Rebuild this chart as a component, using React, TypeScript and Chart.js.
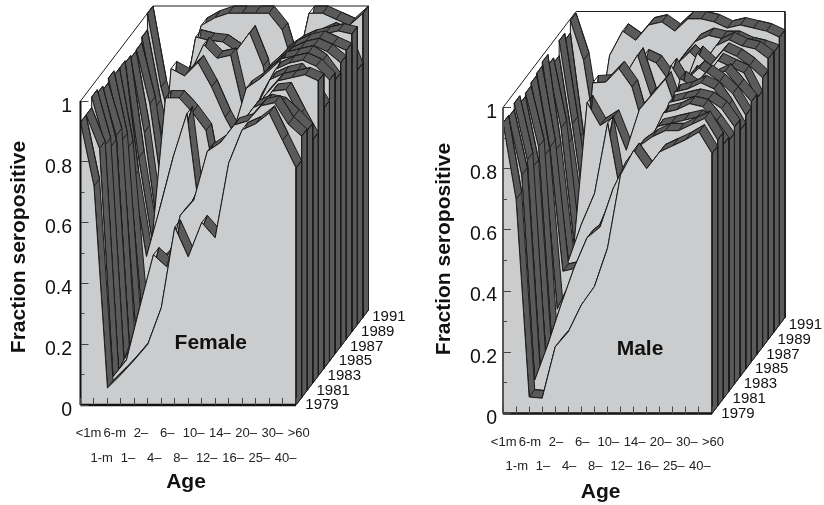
import React, { useEffect, useRef } from "react";
import { Chart, registerables } from "chart.js";

Chart.register(...registerables);

const ageLabels = ["<1m", "1-m", "6-m", "1–", "2–", "4–", "6–", "8–", "10–", "12–", "14–", "16–", "20–", "25–", "30–", "40–", ">60"];
const yearLabels = ["1979", "1981", "1983", "1985", "1987", "1989", "1991"];

const female1979 = [.93, .72, .056, .10, .148, .2, .32, .585, .487, .6, .55, .795, .905, .925, .96, .87, .78];
const female1980 = [.93, .82, .069, .124, .3, .47, .43, .6, .65, .81, .84, .897, .91, .96, .97, .90, .86];
const female1981 = [.965, .807, .067, .15, .32, .42, .46, .58, .67, .78, .82, .87, .93, .95, .94, .9, .855];
const female1982 = [.953, .777, .075, .2, .37, .38, .5, .57, .7, .76, .82, .85, .9, .96, .965, .88, .80];
const female1983 = [.94, .79, .085, .25, .37, .38, .52, .6, .72, .76, .8, .84, .92, .97, .98, .99, .97];
const female1984 = [.955, .75, .14, .29, .33, .43, .5, .64, .7, .75, .78, .86, .95, .97, .98, .93, .857];
const female1985 = [.94, .70, .19, .31, .31, .46, .51, .66, .7, .76, .78, .88, .96, .98, .99, .97, .925];
const female1986 = [.94, .58, .32, .48, .65, .79, .44, .5, .6, .7, .76, .85, .97, .98, .99, .96, .90];
const female1987 = [.933, .62, .35, .818, .818, .77, .71, .48, .7, .85, .88, .92, .96, .98, .99, .97, .933];
const female1988 = [.925, .68, .36, .89, .866, .91, .83, .73, .65, .8, .88, .92, .96, .98, .99, .97, .95];
const female1989 = [.928, .75, .44, .75, .85, .945, .90, .91, .72, .6, .75, .92, .95, .97, .98, .99, .98];
const female1990 = [.946, .715, .533, .70, .946, .935, .93, .90, .96, .85, .6, .75, .9, .95, .97, .95, .837];
const female1991 = [1, .757, .6, .8, .96, .985, 1, 1, 1, 1, .945, .8, 1, 1, .98, .96, 1];

const male1979 = [.95, .70, .054, .05, .218, .267, .355, .415, .54, .78, .86, .80, .855, .875, .895, .92, .85];
const male1980 = [.945, .755, .085, .2, .33, .45, .55, .585, .71, .80, .85, .88, .90, .90, .92, .94, .87];
const male1981 = [.966, .78, .10, .22, .35, .46, .53, .6, .72, .79, .83, .89, .9, .91, .92, .89, .83];
const male1982 = [.94, .733, .12, .25, .37, .48, .52, .63, .73, .78, .82, .91, .92, .94, .93, .88, .82];
const male1983 = [.95, .775, .144, .28, .40, .47, .54, .65, .73, .78, .8, .92, .93, .94, .93, .9, .84];
const male1984 = [.96, .72, .22, .31, .41, .47, .57, .67, .73, .76, .79, .93, .94, .96, .94, .88, .805];
const male1985 = [.967, .725, .32, .33, .42, .47, .59, .68, .72, .75, .77, .95, .92, .97, .94, .9, .83];
const male1986 = [.98, .69, .33, .45, .55, .78, .545, .6, .7, .73, .74, .92, .96, .93, .95, .9, .85];
const male1987 = [.945, .74, .36, .823, .748, .775, .667, .8, .85, .9, .78, .92, .9, .96, .94, .92, .837];
const male1988 = [.928, .66, .38, .863, .866, .91, .85, .70, .78, .92, .85, .96, .92, .97, .95, .92, .88];
const male1989 = [.977, .705, .41, .78, .8, .86, .93, .8, .75, .9, .94, .9, .96, .98, .96, .95, .918];
const male1990 = [.954, .63, .44, .675, .75, .72, .9, .88, .82, .9, .95, .97, .96, .96, .94, .93, .915];
const male1991 = [.995, .865, .6, .88, .96, .93, .98, .99, .96, 1, 1, .99, .97, .98, .97, .96, .94];

const femaleSeries = [female1979, female1980, female1981, female1982, female1983, female1984, female1985, female1986, female1987, female1988, female1989, female1990, female1991];
const maleSeries = [male1979, male1980, male1981, male1982, male1983, male1984, male1985, male1986, male1987, male1988, male1989, male1990, male1991];

const FONT = "'Liberation Sans', Arial, sans-serif";
const LIGHT = "#cbcccd";
const DARK = "#5a5a5a";
const INK = "#1c1c1c";

type Panel = {
  name: string; series: number[][]; canvasLeft: number; canvasWidth: number;
  left: number; frontRight: number; depthX: number; base: number; one: number; depthY: number;
  labelFirst: number; labelLast: number; labelRow: number; yPad: number; yLabelOffset: number;
  titleX: number; titleY: number; ageX: number; ageY: number; nameK: number; nameV: number;
  leftLine: string;
};

const panels: Panel[] = [
  { name: "Female", series: femaleSeries, canvasLeft: 0, canvasWidth: 412, left: 80.5, frontRight: 296, depthX: 72.5, base: 405, one: 101, depthY: 95,
    labelFirst: 88.5, labelLast: 298.7, labelRow: 425.7, yPad: 16.5, yLabelOffset: 5.5, titleX: 19, titleY: 247, ageX: 186, ageY: 482, nameK: 9.67, nameV: .204, leftLine: "#111" },
  { name: "Male", series: maleSeries, canvasLeft: 412, canvasWidth: 412, left: 503, frontRight: 712, depthX: 73, base: 413.5, one: 107.5, depthY: 96,
    labelFirst: 503.7, labelLast: 713, labelRow: 436.7, yPad: 14, yLabelOffset: 5, titleX: 444, titleY: 249, ageX: 600.7, ageY: 492, nameK: 10.49, nameV: .21, leftLine: "#555" },
];

const STEPS = femaleSeries.length;
const LAST = ageLabels.length - 1;

function buildConfig(p: Panel): any {
  const H = 505;
  const stepK = (p.frontRight - p.left) / LAST;
  const dxu = p.depthX / STEPS / stepK;
  const yPx = p.base - p.one;
  const dyu = p.depthY / STEPS / yPx;
  const xMax = LAST + STEPS * dxu;
  const yMax = 1 + STEPS * dyu;
  const right = p.frontRight + p.depthX;
  const top = p.one - p.depthY;
  const proj = (k: number, d: number, v: number) => ({ x: k + d * dxu, y: v + d * dyu });

  const stroke = (data: any[], color: string, width: number) => ({
    data, showLine: true, fill: false, borderColor: color, borderWidth: width, pointRadius: 0, tension: 0, clip: false, borderJoinStyle: "round",
  });
  const shape = (data: any[], bg: string, width: number) => ({
    data, showLine: true, fill: "shape", backgroundColor: bg, borderColor: INK, borderWidth: width, pointRadius: 0, tension: 0, clip: false, borderJoinStyle: "round",
  });

  const back: any[] = [];
  for (let j = STEPS - 1; j >= 0; j--) {
    const vals = p.series[j];
    const frontEdge = vals.map((v, k) => proj(k, j, v));
    const backEdge = vals.map((v, k) => proj(k, j + 1, v));
    const e = LAST;
    const side = [proj(e, j, vals[e]), proj(e, j + 1, vals[e]), proj(e, j + 1, 0), proj(e, j, 0), proj(e, j, vals[e])];
    back.push(shape(side, DARK, 1));
    const rib = [...frontEdge, ...[...backEdge].reverse(), frontEdge[0]];
    back.push(shape(rib, DARK, 1));
    const zig: any[] = [];
    vals.forEach((_, k) => {
      if (k % 2 === 0) zig.push(frontEdge[k], backEdge[k]);
      else zig.push(backEdge[k], frontEdge[k]);
    });
    back.push(stroke(zig, INK, 1));
    const face = [proj(0, j, 0), ...frontEdge, proj(e, j, 0), proj(0, j, 0)];
    back.push(shape(face, LIGHT, 1));
  }
  const wall = stroke([proj(0, 0, 1), proj(0, STEPS, 1), proj(LAST, STEPS, 1), proj(LAST, STEPS, 0), proj(LAST, 0, 0)], INK, 1);
  const leftEdge = stroke([proj(0, 0, 0), proj(0, 0, 1)], p.leftLine, 2);
  const bottomEdge = stroke([proj(0, 0, 0), proj(LAST, 0, 0)], "#111", 2.5);
  const datasets = [wall, ...back, leftEdge, bottomEdge].reverse();

  const xTickVals = ageLabels.map((_, i) => i);
  const labelStep = (p.labelLast - p.labelFirst) / LAST;
  const areaLeft = p.left;
  const lMin = -(p.labelFirst - areaLeft) / labelStep;
  const lMax = (right - p.labelFirst) / labelStep;
  const majors = [0, .2, .4, .6, .8, 1];
  const minors = [.1, .3, .5, .7, .9];
  const zero = (s: any) => { s.paddingLeft = s.paddingRight = s.paddingTop = s.paddingBottom = 0; };

  const textPlugin = {
    id: "panelText",
    afterDraw(chart: any) {
      const { ctx, scales } = chart;
      const off = p.canvasLeft;
      ctx.save();
      ctx.fillStyle = "#111";
      ctx.textAlign = "center";
      ctx.textBaseline = "middle";
      ctx.font = `15px ${FONT}`;
      yearLabels.forEach((t, i) => {
        const pt = proj(LAST, i * 2, 0);
        ctx.fillText(t, scales.x.getPixelForValue(pt.x) + 26, scales.y.getPixelForValue(pt.y));
      });
      ctx.font = `bold 21px ${FONT}`;
      ctx.fillText(p.name, scales.x.getPixelForValue(p.nameK), scales.y.getPixelForValue(p.nameV));
      ctx.fillText("Age", p.ageX - off, p.ageY);
      ctx.translate(p.titleX - off, p.titleY);
      ctx.rotate(-Math.PI / 2);
      ctx.fillText("Fraction seropositive", 0, 0);
      ctx.restore();
    },
  };

  return {
    type: "scatter",
    data: { datasets },
    plugins: [textPlugin],
    options: {
      animation: false,
      responsive: false,
      layout: { padding: { left: 0, top: top, right: p.canvasLeft + p.canvasWidth - right, bottom: 0 } },
      plugins: { legend: { display: false }, tooltip: { enabled: false }, title: { display: false } },
      scales: {
        x: {
          type: "linear", position: "bottom", weight: 0, min: 0, max: xMax,
          border: { display: false },
          grid: { z: 1, drawOnChartArea: false, drawTicks: true, tickLength: -7, tickColor: "#444", tickWidth: 1 },
          ticks: { display: false },
          afterBuildTicks: (s: any) => { s.ticks = xTickVals.map((value) => ({ value })); },
          afterFit: (s: any) => { s.height = 0; zero(s); },
        },
        xLabels: {
          type: "linear", position: "bottom", weight: 1, min: lMin, max: lMax,
          border: { display: false },
          grid: { display: false },
          ticks: {
            autoSkip: false, maxRotation: 0, minRotation: 0, padding: 8.5, color: "#222",
            font: { family: FONT, size: 13, lineHeight: 24.4 / 13 },
            callback: (v: number) => (v % 2 === 0 ? [ageLabels[v], ""] : ["", ageLabels[v]]),
          },
          afterBuildTicks: (s: any) => { s.ticks = xTickVals.map((value) => ({ value })); },
          afterFit: (s: any) => { s.height = H - p.base; zero(s); },
        },
        y: {
          type: "linear", position: "left", weight: 1, min: 0, max: yMax,
          border: { display: false },
          grid: { z: 1, drawOnChartArea: false, drawTicks: true, tickLength: -8, tickColor: "#444", tickWidth: 1 },
          ticks: {
            padding: p.yPad, labelOffset: p.yLabelOffset, color: "#111", font: { family: FONT, size: 19.5 },
            callback: (v: number) => String(v),
          },
          afterBuildTicks: (s: any) => { s.ticks = majors.map((value) => ({ value })); },
          afterFit: (s: any) => { s.width = p.left - p.canvasLeft; zero(s); },
        },
        yMinor: {
          type: "linear", position: "left", weight: 0, min: 0, max: yMax,
          border: { display: false },
          grid: { z: 1, drawOnChartArea: false, drawTicks: true, tickLength: -4, tickColor: "#444", tickWidth: 1 },
          ticks: { display: false },
          afterBuildTicks: (s: any) => { s.ticks = minors.map((value) => ({ value })); },
          afterFit: (s: any) => { s.width = 0; zero(s); },
        },
      },
    },
  };
}

function PanelChart({ panel }: { panel: Panel }) {
  const ref = useRef<HTMLCanvasElement>(null);
  useEffect(() => {
    const chart = new Chart(ref.current as HTMLCanvasElement, buildConfig(panel));
    return () => chart.destroy();
  }, [panel]);
  return (
    <canvas
      ref={ref}
      width={panel.canvasWidth}
      height={505}
      style={{ position: "absolute", left: panel.canvasLeft, top: 0, width: panel.canvasWidth, height: 505 }}
    />
  );
}

export default function App() {
  return (
    <div style={{ position: "fixed", left: 0, top: 0, width: 824, height: 505, background: "#fff", overflow: "hidden" }}>
      {panels.map((p) => (
        <PanelChart key={p.name} panel={p} />
      ))}
    </div>
  );
}
